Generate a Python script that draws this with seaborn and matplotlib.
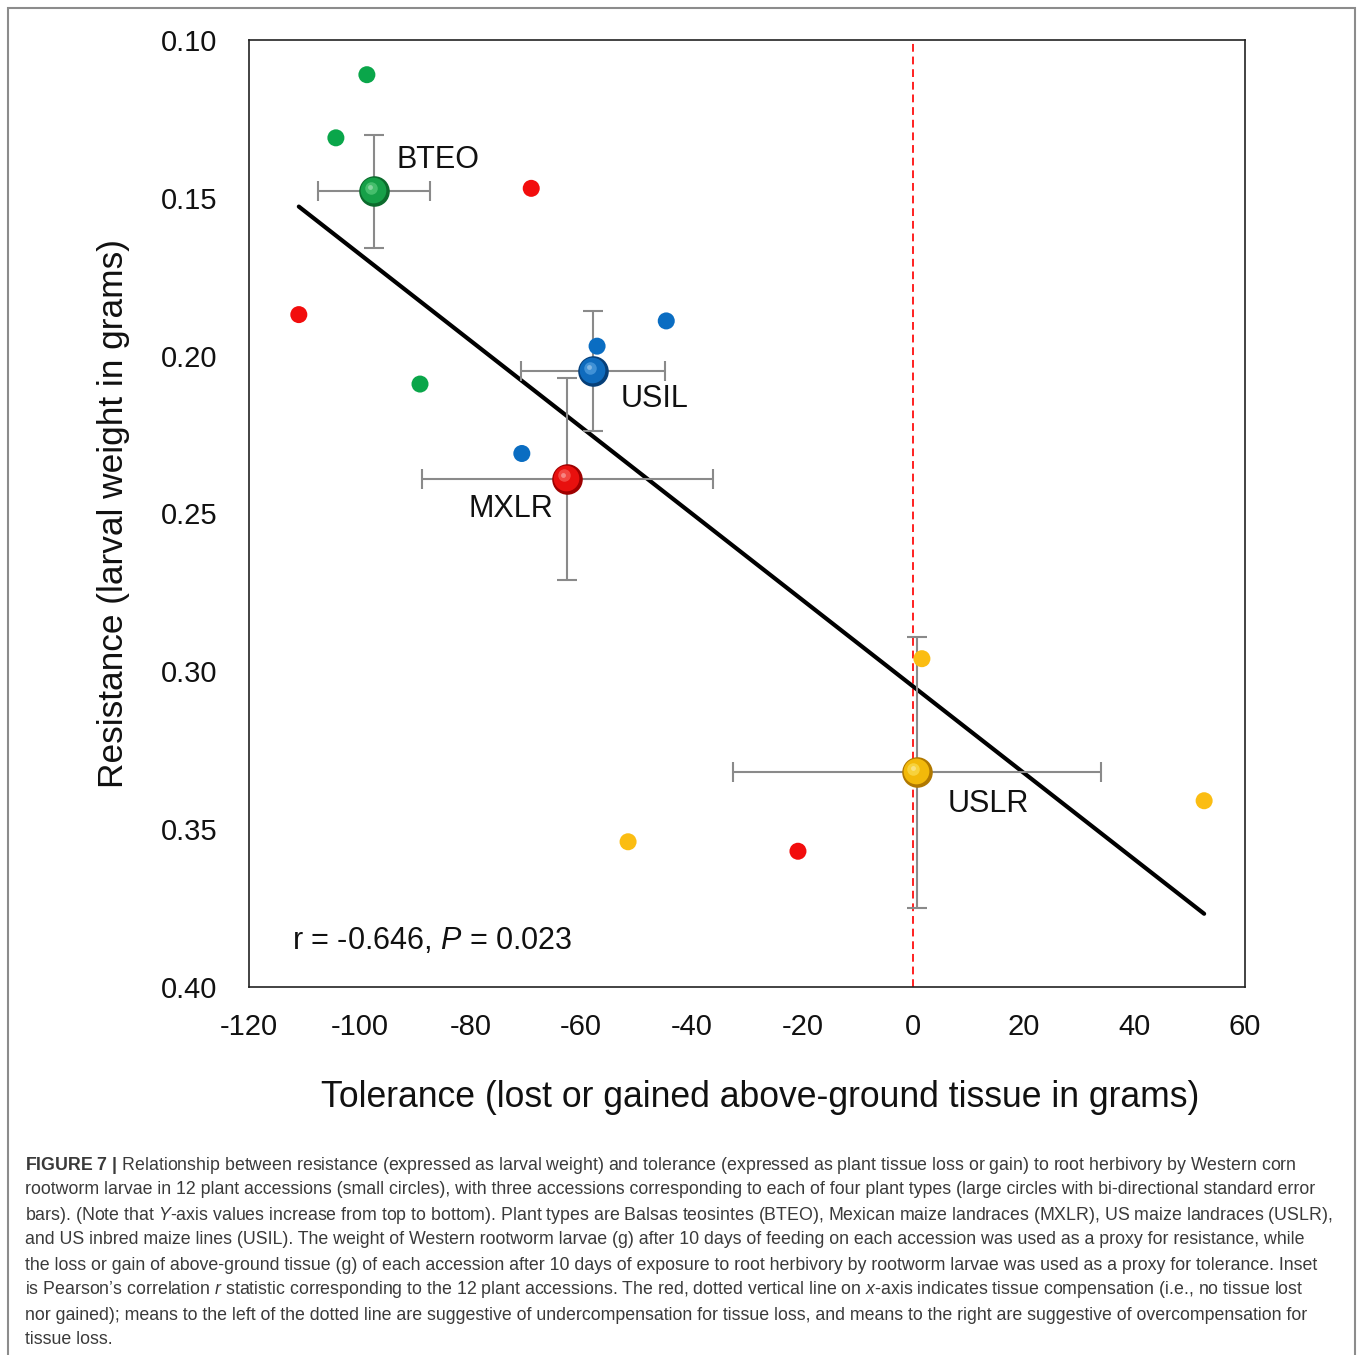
import matplotlib
matplotlib.use('Agg')
import matplotlib.pyplot as plt
import matplotlib.transforms as mtransforms
from matplotlib.patches import Rectangle
import seaborn as sns
import pandas as pd

# --- data ---
# 12 accessions (small circles)
acc_tolerance = [-98.7, -104.3, -89.1, -69.0, -111.0, -20.8, -44.6, -57.1, -70.7, 1.6, -51.5, 52.6]
acc_resistance = [0.111, 0.131, 0.209, 0.147, 0.187, 0.357, 0.189, 0.197, 0.231, 0.296, 0.354, 0.341]
acc_group = ['BTEO', 'BTEO', 'BTEO', 'MXLR', 'MXLR', 'MXLR',
             'USIL', 'USIL', 'USIL', 'USLR', 'USLR', 'USLR']

# plant type means with standard errors (large circles)
type_names = ['BTEO', 'USIL', 'MXLR', 'USLR']
type_tolerance = [-97.4, -57.8, -62.5, 0.7]
type_tol_se = [10.1, 13.0, 26.3, 33.2]
type_resistance = [0.148, 0.205, 0.239, 0.332]
type_res_se = [0.018, 0.019, 0.032, 0.043]

# where the type names sit
label_x = [-93.3, -52.8, -80.4, 6.3]
label_y = [0.138, 0.2137, 0.2486, 0.342]

xticks = [-120, -100, -80, -60, -40, -20, 0, 20, 40, 60]
yticks = [0.10, 0.15, 0.20, 0.25, 0.30, 0.35, 0.40]

small_colors = {'BTEO': '#0aa64a', 'MXLR': '#f20d0d', 'USIL': '#0a6dc2', 'USLR': '#fbbd12'}
sphere_colors = {'BTEO': ('#0b6b2c', '#16a048', '#7fe39a'),
                 'MXLR': ('#9e0000', '#e8100e', '#ff8a80'),
                 'USIL': ('#063f78', '#0f6bbd', '#7cc0f5'),
                 'USLR': ('#b07800', '#f2b90a', '#fff27a')}

df = pd.DataFrame({'tolerance': acc_tolerance, 'resistance': acc_resistance, 'type': acc_group})

sns.set_style('white')
plt.rcParams['font.family'] = ['Liberation Sans', 'DejaVu Sans']
plt.rcParams['axes.unicode_minus'] = False
plt.rcParams['mathtext.fontset'] = 'custom'
plt.rcParams['mathtext.rm'] = 'Liberation Sans'
plt.rcParams['mathtext.it'] = 'Liberation Sans:italic'
plt.rcParams['mathtext.bf'] = 'Liberation Sans:bold'

fig = plt.figure(figsize=(13.6, 13.55), dpi=100)
ax = fig.add_axes([0.1831, 0.2716, 0.7324, 0.6989])

# dashed zero line (tissue compensation)
ax.axvline(0, color='#ff2020', ls=(0, (4, 2.5)), lw=1.4, zorder=1)

# regression on the 12 accessions
sns.regplot(data=df, x='tolerance', y='resistance', scatter=False, ci=None,
            truncate=True, color='black', line_kws={'lw': 3}, ax=ax)

sns.scatterplot(data=df, x='tolerance', y='resistance', hue='type', palette=small_colors,
                s=150, edgecolor='none', legend=False, ax=ax, zorder=4)

# error bars for the plant type means
ax.errorbar(type_tolerance, type_resistance, xerr=type_tol_se, yerr=type_res_se,
            fmt='none', ecolor='#8a8a8a', elinewidth=1.5, capsize=7, capthick=1.5, zorder=3)

# shaded "sphere" markers
for name, tx, ty in zip(type_names, type_tolerance, type_resistance):
    dark, main, light = sphere_colors[name]
    ax.plot(tx, ty, 'o', ms=22, color=dark, mec='none', zorder=5)
    tr1 = mtransforms.offset_copy(ax.transData, fig=fig, x=-0.8, y=0.8, units='points')
    ax.plot(tx, ty, 'o', ms=18.5, color=main, mec='none', zorder=6, transform=tr1)
    tr2 = mtransforms.offset_copy(ax.transData, fig=fig, x=-2.5, y=2.5, units='points')
    ax.plot(tx, ty, 'o', ms=9, color=light, mec='none', alpha=0.45, zorder=7, transform=tr2)
    tr3 = mtransforms.offset_copy(ax.transData, fig=fig, x=-3.0, y=3.0, units='points')
    ax.plot(tx, ty, 'o', ms=3.5, color='white', mec='none', alpha=0.35, zorder=8, transform=tr3)

for name, lx, ly in zip(type_names, label_x, label_y):
    ax.text(lx, ly, name, fontsize=22, ha='left', va='center', color='#111111')

ax.text(-112.2, 0.3854, r'r = -0.646, $\mathit{P}$ = 0.023', fontsize=22,
        ha='left', va='center', color='#111111')

ax.set_xlim(-120, 60)
ax.set_ylim(0.40, 0.10)
ax.set_xticks(xticks)
ax.set_yticks(yticks)
ax.set_yticklabels([f'{v:.2f}' for v in yticks])
ax.tick_params(axis='both', which='major', direction='out', length=10, width=1.2,
               color='#222222', labelsize=21, labelcolor='#111111')
ax.tick_params(axis='x', pad=9)
ax.tick_params(axis='y', pad=13)
for sp in ax.spines.values():
    sp.set_color('#222222')
    sp.set_linewidth(1.2)

ax.set_xlabel('Tolerance (lost or gained above-ground tissue in grams)', fontsize=25.6,
              color='#111111')
ax.xaxis.set_label_coords(0.513, -0.098)
ax.set_ylabel('Resistance (larval weight in grams)', fontsize=25.4, labelpad=22, color='#111111')

# caption
caption = [
    r'$\mathbf{FIGURE\ 7\ |}$ Relationship between resistance (expressed as larval weight) and tolerance (expressed as plant tissue loss or gain) to root herbivory by Western corn',
    'rootworm larvae in 12 plant accessions (small circles), with three accessions corresponding to each of four plant types (large circles with bi-directional standard error',
    r'bars). (Note that $\mathit{Y}$-axis values increase from top to bottom). Plant types are Balsas teosintes (BTEO), Mexican maize landraces (MXLR), US maize landraces (USLR),',
    'and US inbred maize lines (USIL). The weight of Western rootworm larvae (g) after 10 days of feeding on each accession was used as a proxy for resistance, while',
    'the loss or gain of above-ground tissue (g) of each accession after 10 days of exposure to root herbivory by rootworm larvae was used as a proxy for tolerance. Inset',
    r'is Pearson’s correlation $\mathit{r}$ statistic corresponding to the 12 plant accessions. The red, dotted vertical line on $\mathit{x}$-axis indicates tissue compensation (i.e., no tissue lost',
    'nor gained); means to the left of the dotted line are suggestive of undercompensation for tissue loss, and means to the right are suggestive of overcompensation for',
    'tissue loss.',
]
for i, line in enumerate(caption):
    fig.text(25 / 1360, 1 - (1165 + 25 * i) / 1355, line, fontsize=12.8, color='#3a3a3a',
             ha='left', va='center')

# thin frame around the figure panel
fig.add_artist(Rectangle((8 / 1360, -0.01), 1347 / 1360, 1.01 - 8 / 1355,
                         transform=fig.transFigure, fill=False, ec='#8c8c8c', lw=1.5))

fig.savefig('out.png', dpi=100)
